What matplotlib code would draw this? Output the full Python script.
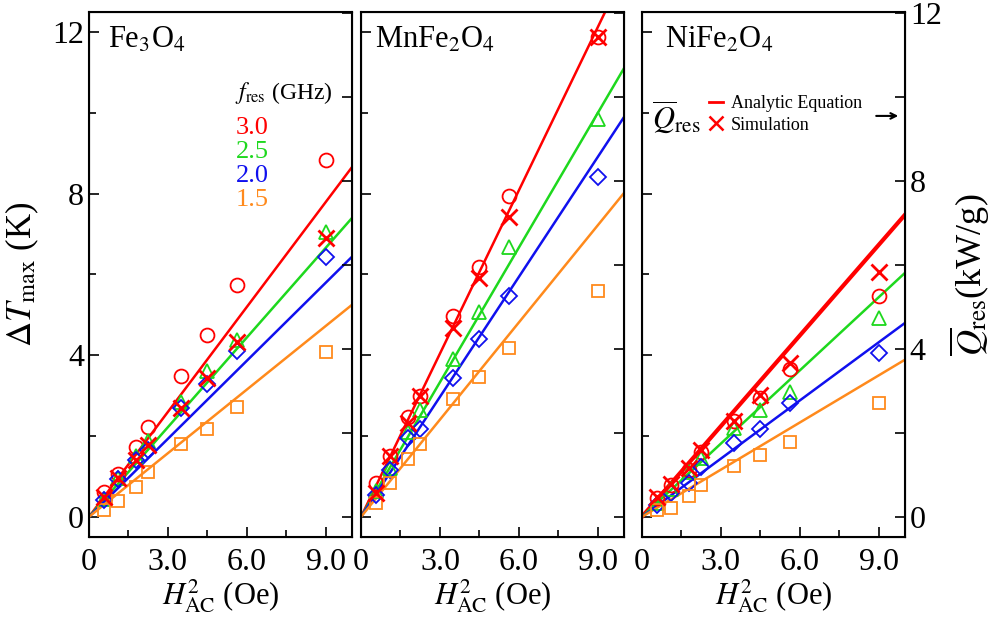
import numpy as np
import matplotlib.pyplot as plt
from matplotlib.lines import Line2D
from matplotlib.ticker import MultipleLocator

plt.rcParams['font.family'] = ['Liberation Serif', 'DejaVu Serif']
plt.rcParams['mathtext.fontset'] = 'stix'

# H_AC^2 values of the sample points
h2 = [0.56, 1.1, 1.77, 2.25, 3.5, 4.5, 5.62, 9.0]

freqs = ['3.0', '2.5', '2.0', '1.5']
colors = ['#ff0000', '#1ed81e', '#1010ee', '#ff8a1c']
markers = ['o', '^', 'D', 's']
msizes = [10, 10, 8, 9]

names = ['Fe$_3$O$_4$', 'MnFe$_2$O$_4$', 'NiFe$_2$O$_4$']

# Fe3O4: dT_max per frequency (3.0, 2.5, 2.0, 1.5 GHz)
fe_dt = [[0.62, 1.06, 1.73, 2.23, 3.49, 4.50, 5.74, 8.84],
         [0.45, 0.95, 1.50, 1.88, 2.85, 3.60, 4.38, 7.05],
         [0.42, 0.94, 1.40, 1.65, 2.70, 3.30, 4.10, 6.44],
         [0.17, 0.40, 0.74, 1.10, 1.80, 2.18, 2.72, 4.08]]
fe_sim = [0.50, 0.95, 1.40, 1.78, 2.70, 3.43, 4.33, 6.90]
fe_line = [8.66, 7.40, 6.44, 5.25]   # analytic value at H^2 = 10

# MnFe2O4
mn_dt = [[0.84, 1.51, 2.48, 3.00, 4.98, 6.19, 7.95, 11.88],
         [0.65, 1.20, 2.10, 2.65, 3.90, 5.08, 6.68, 9.85],
         [0.55, 1.15, 1.95, 2.18, 3.44, 4.40, 5.47, 8.42],
         [0.35, 0.84, 1.44, 1.80, 2.92, 3.47, 4.18, 5.60]]
mn_sim = [0.60, 1.50, 2.33, 3.00, 4.68, 5.92, 7.43, 11.88]
mn_line = [13.47, 11.11, 9.90, 8.02]

# NiFe2O4
ni_dt = [[0.47, 0.79, 1.16, 1.61, 2.38, 2.95, 3.66, 5.47],
         [0.35, 0.70, 1.10, 1.45, 2.20, 2.65, 3.09, 4.93],
         [0.30, 0.60, 0.84, 1.24, 1.83, 2.18, 2.82, 4.06],
         [0.17, 0.22, 0.52, 0.79, 1.26, 1.53, 1.86, 2.82]]
ni_sim = [0.50, 0.82, 1.20, 1.66, 2.38, 3.02, 3.81, 6.06]
ni_line = [7.48, 6.04, 4.80, 3.89]

all_dt = [fe_dt, mn_dt, ni_dt]
all_sim = [fe_sim, mn_sim, ni_sim]
all_line = [fe_line, mn_line, ni_line]

fig = plt.figure(figsize=(9.99, 6.2), dpi=100)
lefts = [0.0891, 0.3614, 0.6426]
name_x = [0.072, 0.053, 0.087]

for i in range(3):
    ax = fig.add_axes([lefts[i], 0.1339, 0.2633, 0.8468])
    for j in range(4):
        lw = 3 if (i == 2 and j == 0) else 1.8
        ax.plot([0, 10], [0, all_line[i][j]], color=colors[j], lw=lw, zorder=2)
        ax.plot(h2, all_dt[i][j], linestyle='none', marker=markers[j],
                ms=msizes[j], mfc='none', mec=colors[j], mew=1.3, zorder=3)
    ax.plot(h2, all_sim[i], linestyle='none', marker='x', ms=12,
            mec='#ff0000', mew=2, zorder=4)

    ax.set_xlim(0, 10)
    ax.set_ylim(-0.5, 12.5)
    ax.set_xticks([0, 3, 6, 9])
    ax.set_xticklabels(['0', '3.0', '6.0', '9.0'])
    ax.xaxis.set_minor_locator(MultipleLocator(1.5))
    ax.yaxis.set_major_locator(MultipleLocator(4))
    ax.yaxis.set_minor_locator(MultipleLocator(2))
    ax.tick_params(which='both', direction='in', labelsize=23, width=1.2)
    ax.tick_params(axis='x', pad=8)
    ax.tick_params(which='major', length=7)
    ax.tick_params(which='minor', length=5)
    ax.tick_params(axis='y', right=False)
    for s in ax.spines.values():
        s.set_linewidth(1.5)
    if i > 0:
        ax.set_yticklabels([])
    else:
        ax.set_ylabel(r'$\Delta T_{\rm max}$ (K)', fontsize=25, labelpad=8)
    ax.set_xlabel(r'$H^{2}_{\rm AC}$ (Oe)', fontsize=22, labelpad=0)
    ax.text(name_x[i], 0.947, names[i], transform=ax.transAxes,
            fontsize=22, va='center', ha='left')

    # right-hand heat (Q) scale
    axr = ax.twinx()
    axr.set_ylim(-0.47, 12.02)
    axr.yaxis.set_major_locator(MultipleLocator(4))
    axr.yaxis.set_minor_locator(MultipleLocator(2))
    axr.tick_params(which='both', direction='in', labelsize=23, width=1.2)
    axr.tick_params(which='major', length=7)
    axr.tick_params(which='minor', length=7)
    if i < 2:
        axr.set_yticklabels([])
    else:
        axr.set_ylabel(r'$\overline{Q}_{\rm res}$(kW/g)', fontsize=26, labelpad=4)

    if i == 0:
        ax.text(0.74, 0.846, r'$f_{\rm res}$ (GHz)', transform=ax.transAxes,
                fontsize=17, ha='center', va='center')
        ys = [0.779, 0.733, 0.688, 0.642]
        for j in range(4):
            ax.text(0.62, ys[j], freqs[j], transform=ax.transAxes,
                    fontsize=19, ha='center', va='center', color=colors[j])
    if i == 2:
        ax.text(0.13, 0.80, r'$\overline{Q}_{\rm res}$', transform=ax.transAxes,
                fontsize=22, ha='center', va='center')
        handles = [Line2D([], [], color='#ff0000', lw=2),
                   Line2D([], [], color='#ff0000', marker='x', ms=10, mew=1.8,
                          linestyle='none')]
        ax.legend(handles, ['Analytic Equation', 'Simulation'],
                  loc='center left', bbox_to_anchor=(0.22, 0.805),
                  frameon=False, fontsize=13, handlelength=0.8,
                  handletextpad=0.4, labelspacing=0.25, borderpad=0)
        ax.annotate('', xy=(0.985, 0.802), xytext=(0.88, 0.802),
                    xycoords='axes fraction',
                    arrowprops=dict(arrowstyle='->', color='black', lw=1.5))

fig.savefig('out.png', dpi=100)
